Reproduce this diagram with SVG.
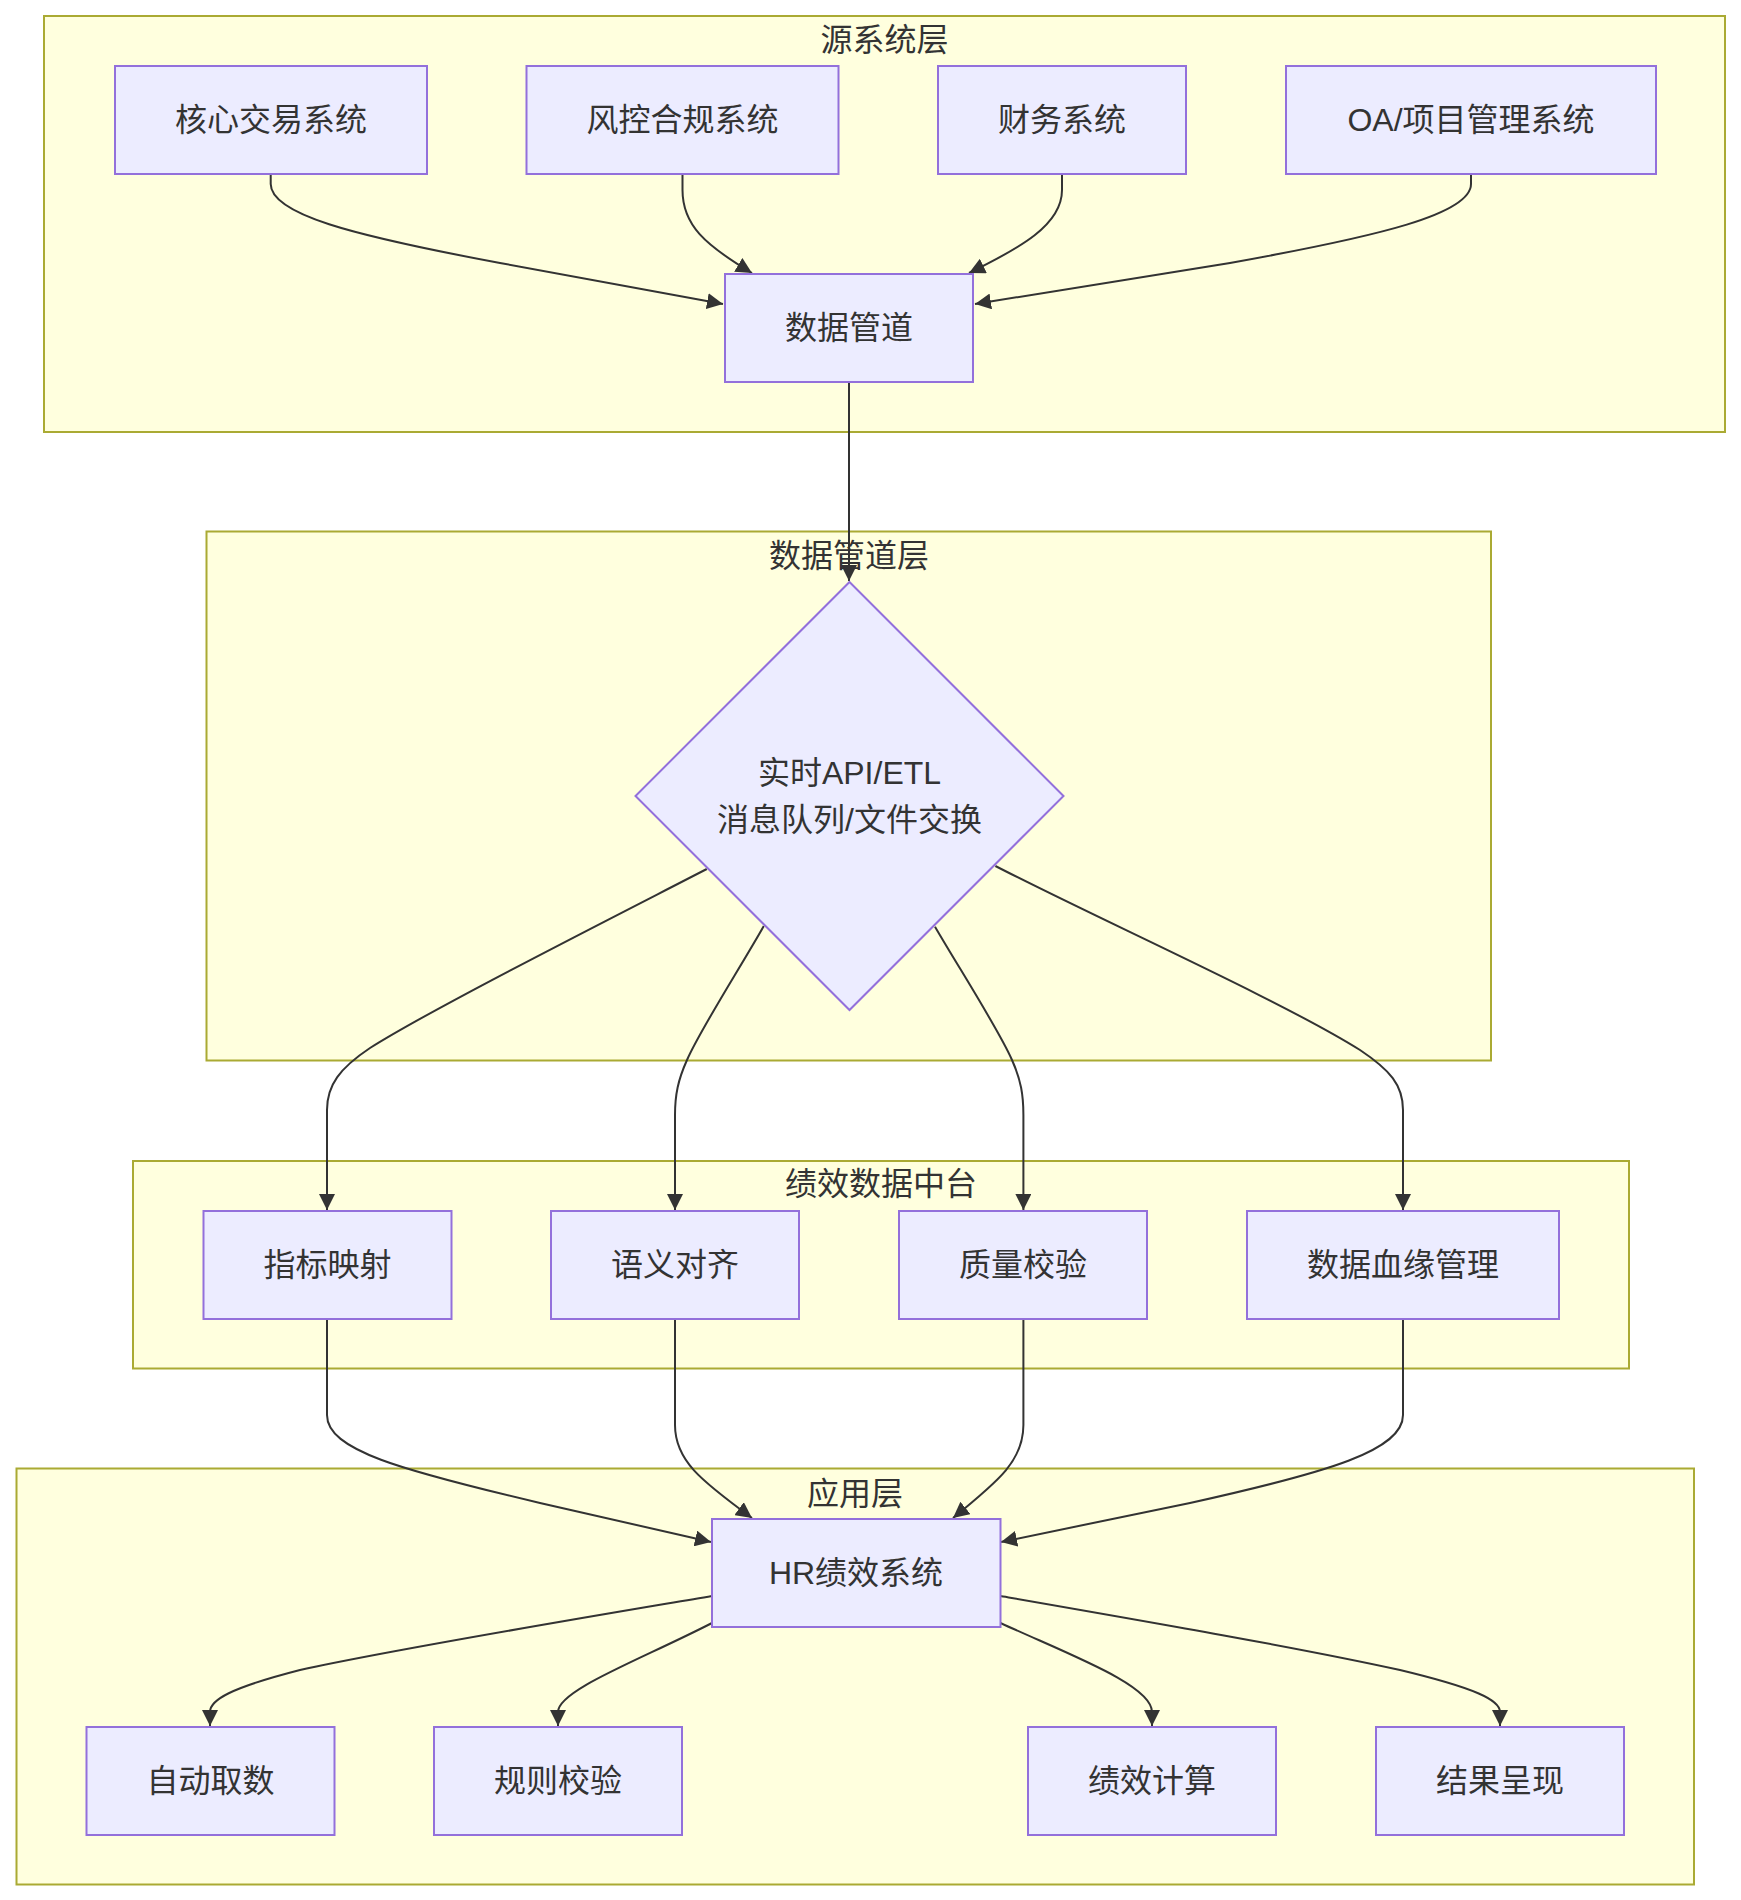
<svg xmlns="http://www.w3.org/2000/svg" width="1741" height="1900" viewBox="0 0 1741 1900">
<style>
.cl{fill:#ffffde;stroke:#aaaa33;stroke-width:2}
.nd{fill:#ECECFF;stroke:#9370DB;stroke-width:2}
.t{font-family:"Liberation Sans","Noto Sans CJK SC",sans-serif;font-size:32px;fill:#333333;text-anchor:middle;dominant-baseline:central}
.e{fill:none;stroke:#333333;stroke-width:2;marker-end:url(#arr)}
</style>
<defs>
<marker id="arr" viewBox="0 0 10 10" refX="10" refY="5" markerUnits="userSpaceOnUse" markerWidth="16" markerHeight="16" orient="auto"><path d="M0,0 L10,5 L0,10 z" fill="#333333"/></marker>
</defs>
<rect width="1741" height="1900" fill="#ffffff"/>
<g id="clusters">
<g id="cluster-src"><rect class="cl" x="44" y="16" width="1681" height="416"/><text class="t" x="884.5" y="40">源系统层</text></g>
<g id="cluster-pipe"><rect class="cl" x="206.5" y="531.5" width="1284.5" height="529"/><text class="t" x="849" y="556">数据管道层</text></g>
<g id="cluster-mid"><rect class="cl" x="133" y="1161" width="1496" height="207.5"/><text class="t" x="881" y="1184">绩效数据中台</text></g>
<g id="cluster-app"><rect class="cl" x="16.5" y="1468.5" width="1677.5" height="416"/><text class="t" x="855" y="1493.5">应用层</text></g>
</g>
<g id="connectors">
<path class="e" d="M270.7,174 V184 C270.7,214 350,235 500,263 L723,304"/>
<path class="e" d="M682.5,174 V190 C682.5,225 705,245 752,273"/>
<path class="e" d="M1062,174 V190 C1062,225 1020,248 969,273"/>
<path class="e" d="M1471,174 V184 C1471,214 1380,236 1230,263 L975,304"/>
<path class="e" d="M849,382 V581"/>
<path class="e" d="M706.8,869 C600,924 430,1010 370,1048 C340,1068 327,1085 327,1110 V1210"/>
<path class="e" d="M763.8,926 C740,968 700,1030 687,1060 C678,1080 675,1095 675,1115 V1210"/>
<path class="e" d="M935,926.7 C959,968 999,1030 1012,1060 C1021,1080 1023.4,1095 1023.4,1115 V1210"/>
<path class="e" d="M995.4,866 C1100,920 1280,1000 1360,1050 C1390,1070 1403,1085 1403,1110 V1210"/>
<path class="e" d="M327,1319 V1415 C327,1450 400,1470 540,1503 L711,1542"/>
<path class="e" d="M675,1319 V1425 C675,1460 700,1480 752,1518"/>
<path class="e" d="M1023.4,1319 V1425 C1023.4,1460 1000,1480 953,1518"/>
<path class="e" d="M1403,1319 V1415 C1403,1450 1330,1472 1190,1503 L1001,1542"/>
<path class="e" d="M712,1596 C600,1615 400,1648 300,1670 C230,1688 210,1700 210,1712 V1726"/>
<path class="e" d="M712,1623 C640,1660 558,1690 558,1712 V1726"/>
<path class="e" d="M1000.5,1623 C1070,1655 1152,1685 1152,1712 V1726"/>
<path class="e" d="M1000.5,1596 C1150,1622 1300,1648 1400,1670 C1475,1688 1500,1700 1500,1712 V1726"/>
</g>
<g id="nodes">
<g id="n-core"><rect class="nd" x="115" y="66" width="312" height="108"/><text class="t" x="271" y="120">核心交易系统</text></g>
<g id="n-risk"><rect class="nd" x="526.5" y="66" width="312" height="108"/><text class="t" x="682.5" y="120">风控合规系统</text></g>
<g id="n-fin"><rect class="nd" x="938" y="66" width="248" height="108"/><text class="t" x="1062" y="120">财务系统</text></g>
<g id="n-oa"><rect class="nd" x="1286" y="66" width="370" height="108"/><text class="t" x="1471" y="120">OA/项目管理系统</text></g>
<g id="n-pipe"><rect class="nd" x="725" y="274" width="248" height="108"/><text class="t" x="849" y="328">数据管道</text></g>
<g id="n-api"><polygon class="nd" points="849.5,582 1063.5,796 849.5,1010 635.5,796"/><text class="t" x="849.5" y="773">实时API/ETL</text><text class="t" x="849.5" y="820">消息队列/文件交换</text></g>
<g id="n-map"><rect class="nd" x="203.5" y="1211" width="248" height="108"/><text class="t" x="327.5" y="1265">指标映射</text></g>
<g id="n-sem"><rect class="nd" x="551" y="1211" width="248" height="108"/><text class="t" x="675" y="1265">语义对齐</text></g>
<g id="n-qc"><rect class="nd" x="899" y="1211" width="248" height="108"/><text class="t" x="1023" y="1265">质量校验</text></g>
<g id="n-lin"><rect class="nd" x="1247" y="1211" width="312" height="108"/><text class="t" x="1403" y="1265">数据血缘管理</text></g>
<g id="n-hr"><rect class="nd" x="712" y="1519" width="288.5" height="108"/><text class="t" x="856" y="1573">HR绩效系统</text></g>
<g id="n-auto"><rect class="nd" x="86.5" y="1727" width="248" height="108"/><text class="t" x="210.5" y="1781">自动取数</text></g>
<g id="n-rule"><rect class="nd" x="434" y="1727" width="248" height="108"/><text class="t" x="558" y="1781">规则校验</text></g>
<g id="n-calc"><rect class="nd" x="1028" y="1727" width="248" height="108"/><text class="t" x="1152" y="1781">绩效计算</text></g>
<g id="n-res"><rect class="nd" x="1376" y="1727" width="248" height="108"/><text class="t" x="1500" y="1781">结果呈现</text></g>
</g>
</svg>
